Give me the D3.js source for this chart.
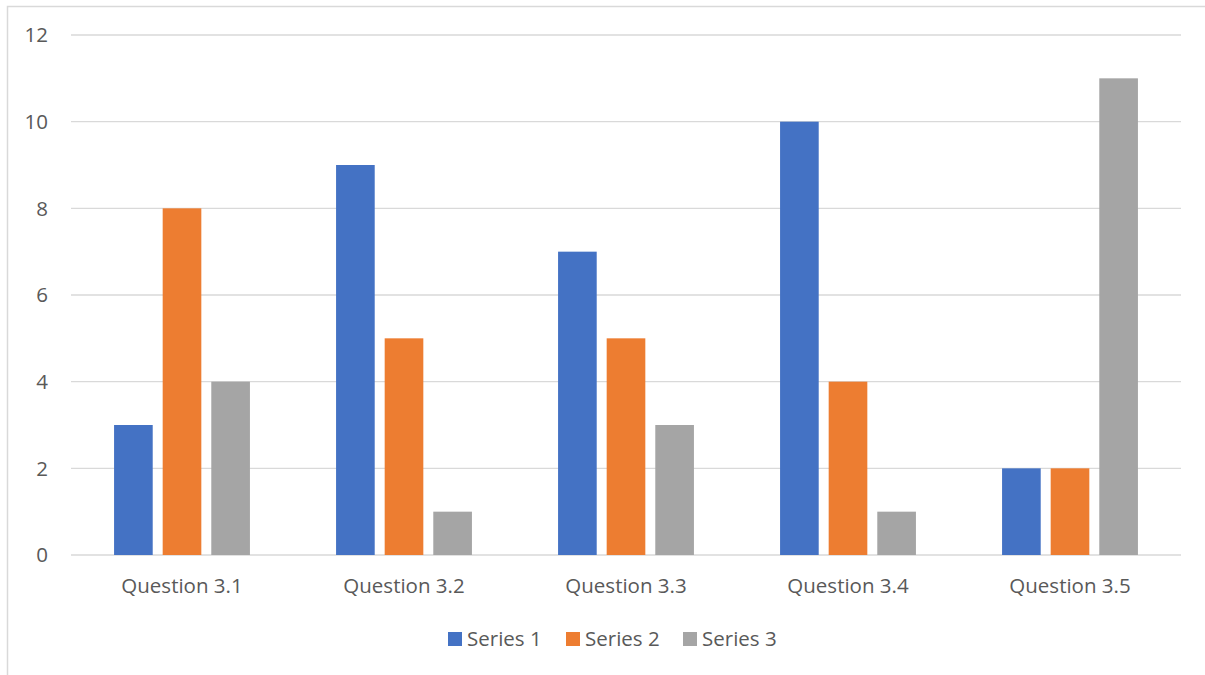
<!DOCTYPE html>
<html>
<head>
<meta charset="utf-8">
<script src="https://cdn.jsdelivr.net/npm/d3@7"></script>
<style>
  body { margin: 0; background: #fff; }
  text { font-family: "Open Sans", "Liberation Sans", sans-serif; fill: #595959; }
</style>
</head>
<body>
<svg id="chart" width="1205" height="675"></svg>
<script>
// chart data
var categories = ["Question 3.1", "Question 3.2", "Question 3.3", "Question 3.4", "Question 3.5"];
var seriesNames = ["Series 1", "Series 2", "Series 3"];
var series1 = [3, 9, 7, 10, 2];
var series2 = [8, 5, 5, 4, 2];
var series3 = [4, 1, 3, 1, 11];
var yTicks = [0, 2, 4, 6, 8, 10, 12];
var colors = ["#4472C4", "#ED7D31", "#A5A5A5"];

var svg = d3.select("#chart");
var plotLeft = 71, plotRight = 1181, plotTop = 35, plotBottom = 555;
var fontSize = "20.5px";

// outer frame, runs off the right and bottom edges
svg.append("rect")
    .attr("x", 7.5).attr("y", 6.5)
    .attr("width", 1210).attr("height", 680)
    .attr("fill", "none")
    .attr("stroke", "#D9D9D9")
    .attr("stroke-width", 1.5);

var y = d3.scaleLinear().domain([0, 12]).range([plotBottom, plotTop]);

var x0 = d3.scaleBand()
    .domain(categories)
    .range([plotLeft, plotRight]);

var bw = x0.bandwidth();
var x1 = d3.scaleBand()
    .domain(seriesNames)
    .range([bw * 0.194, bw * 0.806])
    .paddingInner(0.205);

// grid lines
svg.append("g")
    .selectAll("line")
    .data(yTicks)
    .enter()
    .append("line")
    .attr("x1", plotLeft).attr("x2", plotRight)
    .attr("y1", function(d) { return y(d); })
    .attr("y2", function(d) { return y(d); })
    .attr("stroke", "#D9D9D9")
    .attr("stroke-width", 1.3);

// y labels
svg.append("g")
    .selectAll("text")
    .data(yTicks)
    .enter()
    .append("text")
    .attr("x", 48)
    .attr("y", function(d) { return y(d); })
    .attr("dy", "0.35em")
    .attr("text-anchor", "end")
    .style("font-size", fontSize)
    .text(function(d) { return d; });

// bars
var rows = categories.map(function(c, i) {
    return { cat: c, vals: [series1[i], series2[i], series3[i]] };
});

var groups = svg.append("g")
    .selectAll("g")
    .data(rows)
    .enter()
    .append("g")
    .attr("transform", function(d) { return "translate(" + x0(d.cat) + ",0)"; });

groups.selectAll("rect")
    .data(function(d) {
        return d.vals.map(function(v, j) { return { name: seriesNames[j], value: v, idx: j }; });
    })
    .enter()
    .append("rect")
    .attr("x", function(d) { return x1(d.name); })
    .attr("width", x1.bandwidth())
    .attr("y", function(d) { return y(d.value); })
    .attr("height", function(d) { return y(0) - y(d.value); })
    .attr("fill", function(d) { return colors[d.idx]; });

// category labels
svg.append("g")
    .selectAll("text")
    .data(categories)
    .enter()
    .append("text")
    .attr("x", function(d) { return x0(d) + bw / 2; })
    .attr("y", 586)
    .attr("dy", "0.35em")
    .attr("text-anchor", "middle")
    .style("font-size", fontSize)
    .text(function(d) { return d; });

// legend
var legendX = [448, 566, 683];
var legend = svg.append("g")
    .selectAll("g")
    .data(seriesNames)
    .enter()
    .append("g")
    .attr("transform", function(d, i) { return "translate(" + legendX[i] + ",639)"; });

legend.append("rect")
    .attr("x", 0).attr("y", -7)
    .attr("width", 14).attr("height", 14)
    .attr("fill", function(d, i) { return colors[i]; });

legend.append("text")
    .attr("x", 19)
    .attr("dy", "0.35em")
    .style("font-size", fontSize)
    .text(function(d) { return d; });
</script>
</body>
</html>
